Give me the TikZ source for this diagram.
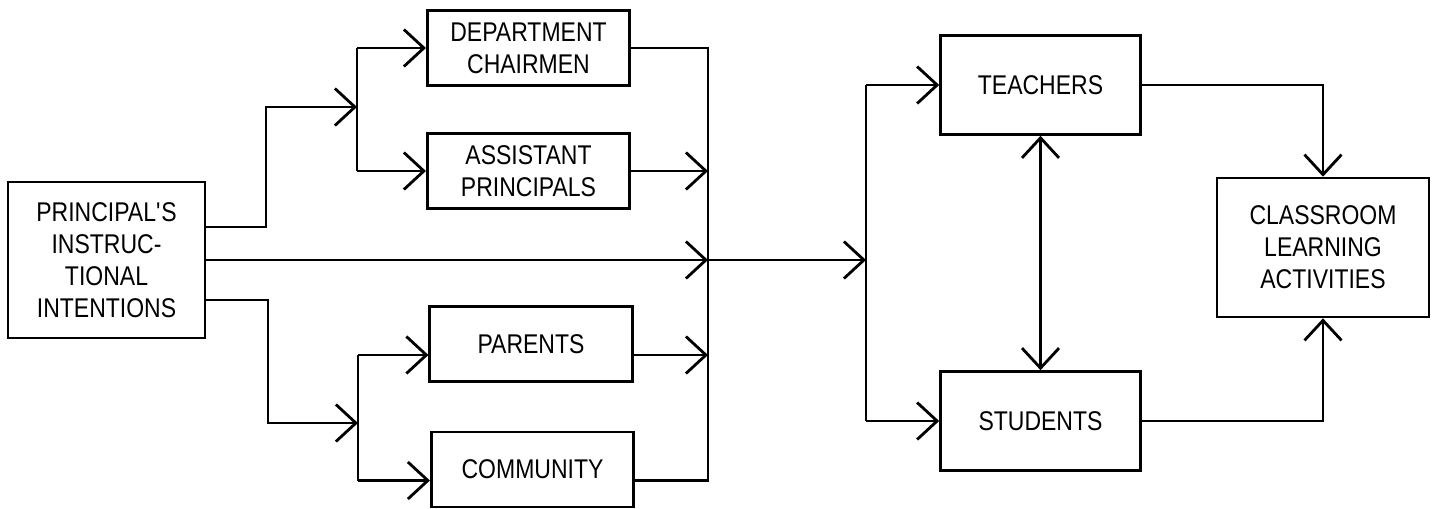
\documentclass[tikz,border=0pt]{standalone}
\usepackage{fontspec}
\setmainfont{Liberation Sans}[FakeStretch=0.85]
\usetikzlibrary{arrows.meta,positioning,calc}

\begin{document}
\begin{tikzpicture}[x=0.02cm, y=-0.02cm, font=\fontsize{15.4}{18.2}\selectfont, >={Straight Barb[length=0.4cm,width=0.74cm]}, box/.style={draw,line width=1.5pt,align=center,inner sep=0pt}, unit/.style={box,minimum width=4.05cm,minimum height=1.5cm}, actor/.style={box,minimum width=4cm,minimum height=1.98cm}, ln/.style={line width=1.6pt}, arr/.style={->,line width=1.6pt}]
\useasboundingbox (0,0) rectangle (1434,508);
\node[box,minimum width=3.94cm,minimum height=3.12cm] (principal) at (106.5,260) {PRINCIPAL\textquotesingle S\\INSTRUC-\\TIONAL\\INTENTIONS};
\node[unit] (chairmen) at (528.5,48) {DEPARTMENT\\CHAIRMEN};
\node[unit] (assistants) at (528.5,171) {ASSISTANT\\PRINCIPALS};
\node[unit] (parents) at (531,344) {PARENTS};
\node[unit] (community) at (532.5,469.5) {COMMUNITY};
\node[actor] (teachers) at (1040.5,85) {TEACHERS};
\node[actor] (students) at (1040.5,421) {STUDENTS};
\node[box,minimum width=4.24cm,minimum height=2.78cm] (classroom) at (1323,247.5) {CLASSROOM\\LEARNING\\ACTIVITIES};
\coordinate (ka) at (266,107);
\coordinate (ft) at (357,107);
\coordinate (kb) at (268,423);
\coordinate (fb) at (358,423);
\coordinate (jl) at (708,260);
\coordinate (jr) at (866,260);
\coordinate (pin) at ([yshift=-.22cm]parents.west);
\coordinate (pout) at ([yshift=-.22cm]parents.east);
\coordinate (cin) at ([yshift=-.22cm]community.west);
\coordinate (cout) at ([yshift=-.22cm]community.east);
\draw[arr] ([yshift=.66cm]principal.east) -| (ka) -- (ft);
\draw[ln] (ft |- chairmen.west) -- (ft |- assistants.west);
\draw[arr] (ft |- chairmen.west) -- (chairmen.west);
\draw[arr] (ft |- assistants.west) -- (assistants.west);
\draw[arr] ([yshift=-.8cm]principal.east) -| (kb) -- (fb);
\draw[ln] (fb |- pin) -- (fb |- cin);
\draw[arr] (fb |- pin) -- (pin);
\draw[arr] (fb |- cin) -- (cin);
\draw[ln] (chairmen.east) -| (jl |- cout) -- (cout);
\draw[arr] (assistants.east) -- (assistants.east -| jl);
\draw[arr] (pout) -- (pout -| jl);
\draw[arr] (principal.east) -- (jl);
\draw[arr] (jl) -- (jr);
\draw[ln] (jr |- teachers.west) -- (jr |- students.west);
\draw[arr] (jr |- teachers.west) -- (teachers.west);
\draw[arr] (jr |- students.west) -- (students.west);
\draw[arr,<->] (teachers.south) -- (students.north);
\draw[arr] (teachers.east) -| (classroom.north);
\draw[arr] (students.east) -| (classroom.south);
\end{tikzpicture}
\end{document}
